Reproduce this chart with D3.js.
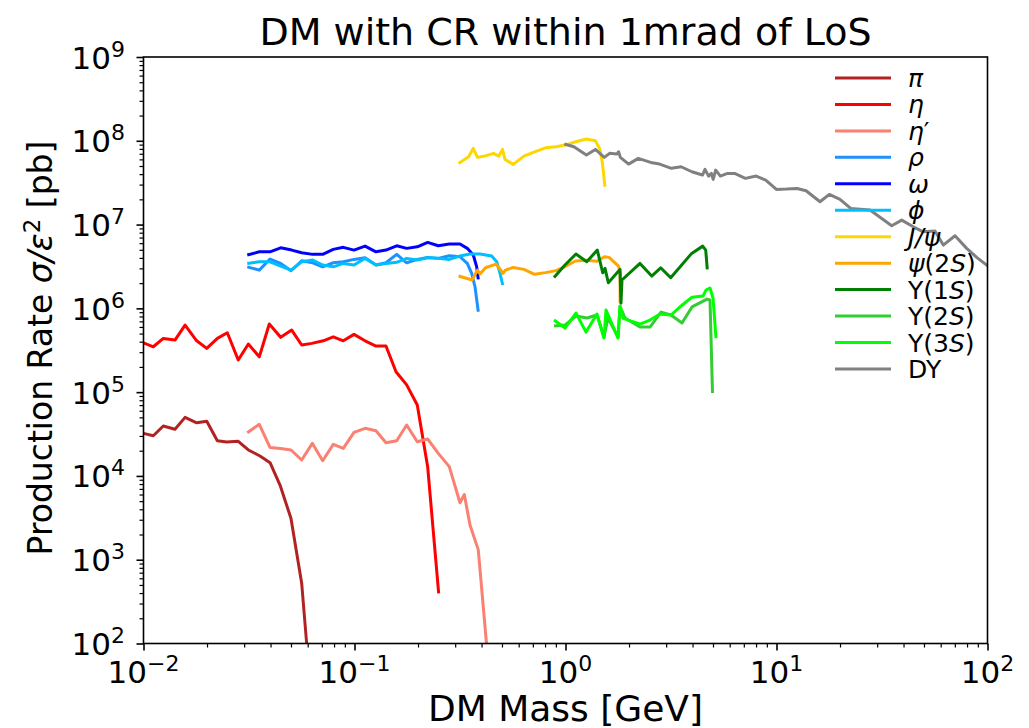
<!DOCTYPE html>
<html>
<head>
<meta charset="utf-8">
<script src="https://cdn.jsdelivr.net/npm/d3@7"></script>
<style>
body { margin: 0; background: #fff; }
text { font-family: "DejaVu Sans", sans-serif; fill: #000; }
</style>
</head>
<body>
<script>
const width = 1029, height = 728;
const x0 = 143.5, x1 = 987.5, y0 = 57, y1 = 643.5;

// [DM mass in GeV, production rate in pb]
const pi = [[0.0100,3.22e4],[0.01113,3.02e4],[0.01241,3.94e4],[0.01410,3.60e4],[0.01574,5.00e4],[0.01787,4.31e4],
  [0.01994,4.49e4],[0.02239,2.63e4],[0.02479,2.54e4],[0.02812,2.59e4],[0.03140,2.04e4],[0.03566,1.73e4],
  [0.03979,1.44e4],[0.04436,7.79e3],[0.04998,3.12e3],[0.05620,522],[0.05933,100],[0.0605,60]];
const eta = [[0.0100,3.88e5],[0.01113,3.48e5],[0.01241,4.38e5],[0.01410,4.18e5],[0.01574,6.32e5],[0.01787,4.10e5],
  [0.01994,3.33e5],[0.02239,4.38e5],[0.02496,5.11e5],[0.02812,2.42e5],[0.03140,3.75e5],[0.03538,2.64e5],
  [0.03946,6.50e5],[0.04468,4.51e5],[0.05040,5.51e5],[0.05620,3.65e5],[0.06268,3.82e5],[0.07113,4.10e5],
  [0.07933,4.58e5],[0.08849,4.10e5],[0.09945,4.89e5],[0.1122,4.10e5],[0.1264,3.55e5],[0.1410,3.55e5],
  [0.1573,1.75e5],[0.1767,1.22e5],[0.1984,7.02e4],[0.2222,1.29e4],[0.2506,397]];
const etaPrime = [[0.03103,3.28e4],[0.03538,4.13e4],[0.03976,2.19e4],[0.04468,2.13e4],[0.05002,2.04e4],[0.05620,1.55e4],
  [0.06310,2.45e4],[0.07066,1.52e4],[0.07933,2.38e4],[0.08849,2.13e4],[0.09945,3.31e4],[0.1122,3.70e4],
  [0.1264,3.46e4],[0.1410,2.49e4],[0.1585,2.63e4],[0.1767,4.05e4],[0.1984,2.56e4],[0.2222,2.76e4],
  [0.2495,1.86e4],[0.2813,1.29e4],[0.3162,4.79e3],[0.3315,6.0e3],[0.3527,2.59e3],[0.3861,1.31e3],
  [0.4222,100],[0.426,60]];
const rho = [[0.03103,3.13e6],[0.03538,2.86e6],[0.03976,3.88e6],[0.04468,3.44e6],[0.05002,2.81e6],[0.05620,3.70e6],
  [0.06339,3.50e6],[0.07066,3.13e6],[0.07933,3.50e6],[0.08849,3.60e6],[0.09945,3.84e6],[0.1122,4.02e6],
  [0.1264,3.29e6],[0.1410,3.50e6],[0.1585,4.41e6],[0.1767,3.50e6],[0.1984,3.84e6],[0.2222,4.06e6],
  [0.2495,3.95e6],[0.2813,4.24e6],[0.3162,4.13e6],[0.3424,3.44e6],[0.3592,2.62e6],[0.3725,1.81e6],[0.3861,9.11e5]];
const omega = [[0.03103,4.33e6],[0.03538,4.73e6],[0.03976,4.73e6],[0.04468,5.28e6],[0.05040,4.96e6],[0.05620,4.61e6],
  [0.06339,4.41e6],[0.07066,4.41e6],[0.07933,5.06e6],[0.08849,5.35e6],[0.09945,4.96e6],[0.1122,5.54e6],
  [0.1264,4.73e6],[0.1410,4.96e6],[0.1585,5.58e6],[0.1767,5.20e6],[0.1984,5.43e6],[0.2222,6.13e6],
  [0.2495,5.58e6],[0.2813,5.85e6],[0.3162,5.85e6],[0.3424,5.20e6],[0.3656,4.33e6],[0.3794,3.13e6],[0.3861,2.22e6]];
const phi = [[0.03103,3.44e6],[0.03538,3.60e6],[0.03976,3.60e6],[0.04468,3.20e6],[0.05002,2.86e6],[0.05620,3.60e6],
  [0.06339,3.77e6],[0.07066,3.29e6],[0.07933,3.13e6],[0.08849,3.44e6],[0.09945,3.29e6],[0.1122,3.95e6],
  [0.1264,3.29e6],[0.1410,3.44e6],[0.1585,3.54e6],[0.1767,3.95e6],[0.1984,3.77e6],[0.2222,4.02e6],
  [0.2495,3.95e6],[0.2813,3.84e6],[0.3162,4.21e6],[0.3527,4.45e6],[0.3934,4.45e6],[0.4469,4.21e6],
  [0.4720,3.60e6],[0.4894,2.62e6],[0.5040,1.90e6]];
const jpsi = [[0.3114,5.37e7],[0.3474,6.44e7],[0.3652,8.11e7],[0.3827,6.34e7],[0.4136,6.57e7],[0.4561,7.08e7],
  [0.4835,6.57e7],[0.5028,7.89e7],[0.5167,6.00e7],[0.5651,5.23e7],[0.6351,6.57e7],[0.7138,7.39e7],
  [0.8028,8.25e7],[0.9026,8.48e7],[0.9945,8.89e7],[1.118,9.73e7],[1.256,1.05e8],[1.386,1.00e8],
  [1.457,7.89e7],[1.497,5.37e7],[1.539,2.83e7]];
const psi2S = [[0.3114,2.43e6],[0.3607,2.18e6],[0.3827,2.86e6],[0.3934,2.57e6],[0.4178,3.05e6],[0.4685,3.38e6],
  [0.4866,2.99e6],[0.5055,2.62e6],[0.5194,2.86e6],[0.5651,3.08e6],[0.6351,2.92e6],[0.7138,2.55e6],
  [0.8028,2.67e6],[0.9026,2.82e6],[1.006,3.20e6],[1.115,3.67e6],[1.258,3.74e6],[1.410,3.64e6],
  [1.530,4.13e6],[1.608,4.06e6],[1.784,3.20e6],[1.813,2.62e6],[1.815,1.15e6]];
const ups1S = [[0.8820,2.34e6],[0.9945,3.29e6],[1.121,4.45e6],[1.261,3.60e6],[1.415,4.96e6],[1.501,2.66e6],
  [1.539,3.00e6],[1.596,2.02e6],[1.813,2.92e6],[1.832,1.15e6],[1.852,2.18e6],[2.255,3.44e6],
  [2.562,2.43e6],[2.826,3.05e6],[3.152,2.32e6],[3.964,4.53e6],[4.470,5.53e6],[4.619,4.96e6],[4.699,2.92e6]];
const ups2S = [[0.8820,6.15e5],[0.9945,6.32e5],[1.121,8.09e5],[1.265,7.66e5],[1.410,8.32e5],[1.522,4.55e5],
  [1.590,7.66e5],[1.774,4.55e5],[1.813,1.06e6],[1.914,7.66e5],[2.253,5.98e5],[2.515,5.98e5],
  [2.835,9.03e5],[3.162,8.32e5],[3.566,6.68e5],[3.978,1.04e6],[4.684,1.29e6],[4.840,1.26e6],[4.974,9.75e4]];
const ups3S = [[0.8820,7.25e5],[0.9945,5.82e5],[1.121,8.79e5],[1.251,5.21e5],[1.410,8.55e5],[1.522,4.42e5],
  [1.556,9.55e5],[1.774,4.42e5],[1.813,1.06e6],[1.873,7.66e5],[1.979,7.25e5],[2.253,6.50e5],
  [2.515,7.25e5],[2.805,8.55e5],[3.162,8.32e5],[3.566,1.09e6],[3.978,1.36e6],[4.484,1.40e6],
  [4.633,1.65e6],[4.840,1.75e6],[5.002,1.33e6],[5.168,4.42e5]];
const drellYan = [[0.987,9.14e7],[1.096,8.48e7],[1.256,6.75e7],[1.386,7.89e7],[1.527,6.34e7],[1.618,7.08e7],
  [1.750,6.94e7],[1.785,7.39e7],[1.820,6.34e7],[1.991,5.27e7],[2.212,6.17e7],[2.534,5.52e7],
  [2.793,5.27e7],[3.177,4.69e7],[3.531,4.90e7],[3.969,4.27e7],[4.460,3.90e7],[4.583,4.56e7],
  [4.767,3.79e7],[4.915,4.08e7],[5.012,3.46e7],[5.150,4.47e7],[5.421,3.79e7],[5.859,4.08e7],
  [6.330,4.08e7],[7.122,3.56e7],[8.005,3.79e7],[8.889,3.40e7],[9.99,2.63e7],[11.14,2.65e7],
  [12.52,2.70e7],[13.81,2.53e7],[16.08,1.87e7],[17.80,2.29e7],[20.00,2.00e7],[22.47,1.56e7],
  [27.75,1.49e7],[35.16,9.68e6],[39.22,1.13e7],[44.49,9.41e6],[49.63,8.20e6],[56.38,8.36e6],
  [61.74,5.69e6],[70.15,7.35e6],[79.69,5.20e6],[88.88,4.06e6],[100.5,3.20e6]];

const series = [pi, eta, etaPrime, rho, omega, phi, jpsi, psi2S, ups1S, ups2S, ups3S, drellYan];
// legend labels as [text, italic] pieces
const labels = [
  [["π",1]], [["η",1]], [["η",1],["′",0]], [["ρ",1]], [["ω",1]], [["ϕ",1]],
  [["J/ψ",1]], [["ψ",1],["(2",0],["S",1],[")",0]],
  [["Υ(1",0],["S",1],[")",0]], [["Υ(2",0],["S",1],[")",0]], [["Υ(3",0],["S",1],[")",0]], [["DY",0]]
];
const colors = ["#b22222","#ff0000","#fa8072","#1e90ff","#0000ff","#00bfff",
  "#ffd700","#ffa500","#008000","#32cd32","#00ff00","#808080"];

const xMajor = [1e-2, 1e-1, 1, 10, 100];
const xExp = ["−2", "−1", "0", "1", "2"];
const yMajor = [1e2, 1e3, 1e4, 1e5, 1e6, 1e7, 1e8, 1e9];
const yExp = ["2", "3", "4", "5", "6", "7", "8", "9"];

const svg = d3.select("body").append("svg")
  .attr("width", width)
  .attr("height", height)
  .attr("viewBox", [0, 0, width, height]);

const x = d3.scaleLog().domain([1e-2, 1e2]).range([x0, x1]);
const y = d3.scaleLog().domain([1e2, 1e9]).range([y1, y0]);

function minors(lo, hi) {
  const out = [];
  for (let e = lo; e < hi; e++) for (let k = 2; k <= 9; k++) out.push(k * Math.pow(10, e));
  return out;
}

svg.append("clipPath").attr("id", "clip")
  .append("rect")
  .attr("x", x0).attr("y", y0)
  .attr("width", x1 - x0).attr("height", y1 - y0);

const line = d3.line().x(d => x(d[0])).y(d => y(d[1]));

svg.append("g").attr("clip-path", "url(#clip)")
  .selectAll("path")
  .data(series)
  .enter()
  .append("path")
  .attr("d", line)
  .attr("fill", "none")
  .attr("stroke", (d, i) => colors[i])
  .attr("stroke-width", 3)
  .attr("stroke-linejoin", "round");

// ticks
function styleAxis(g, w) {
  g.select(".domain").remove();
  g.selectAll(".tick line").attr("stroke", "#000").attr("stroke-width", w);
}
svg.append("g").attr("transform", `translate(0,${y1})`)
  .call(d3.axisBottom(x).tickValues(xMajor).tickSize(7).tickFormat(""))
  .call(g => styleAxis(g, 1.6));
svg.append("g").attr("transform", `translate(0,${y1})`)
  .call(d3.axisBottom(x).tickValues(minors(-2, 2)).tickSize(4).tickFormat(""))
  .call(g => styleAxis(g, 1.2));
svg.append("g").attr("transform", `translate(${x0},0)`)
  .call(d3.axisLeft(y).tickValues(yMajor).tickSize(7).tickFormat(""))
  .call(g => styleAxis(g, 1.6));
svg.append("g").attr("transform", `translate(${x0},0)`)
  .call(d3.axisLeft(y).tickValues(minors(2, 9)).tickSize(4).tickFormat(""))
  .call(g => styleAxis(g, 1.2));

// frame
svg.append("rect")
  .attr("x", x0).attr("y", y0)
  .attr("width", x1 - x0).attr("height", y1 - y0)
  .attr("fill", "none").attr("stroke", "#000").attr("stroke-width", 1.6);

// tick labels
const xt = svg.append("g").selectAll("text").data(xMajor).enter().append("text")
  .attr("x", d => x(d)).attr("y", 683)
  .attr("text-anchor", "middle")
  .style("font-size", "31px");
xt.append("tspan").text("10");
xt.append("tspan").attr("dy", -12).style("font-size", "22px").text((d, i) => xExp[i]);

const yt = svg.append("g").selectAll("text").data(yMajor).enter().append("text")
  .attr("x", 125).attr("y", d => y(d) + 11.5)
  .attr("text-anchor", "end")
  .style("font-size", "31px");
yt.append("tspan").text("10");
yt.append("tspan").attr("dy", -12).style("font-size", "22px").text((d, i) => yExp[i]);

// title and axis labels
svg.append("text").attr("x", (x0 + x1) / 2).attr("y", 45)
  .attr("text-anchor", "middle").style("font-size", "38px")
  .text("DM with CR within 1mrad of LoS");

svg.append("text").attr("x", (x0 + x1) / 2).attr("y", 721)
  .attr("text-anchor", "middle").style("font-size", "36px")
  .text("DM Mass [GeV]");

const yl = svg.append("text")
  .attr("transform", "translate(52,348) rotate(-90)")
  .attr("text-anchor", "middle").style("font-size", "33px");
yl.append("tspan").text("Production Rate ");
yl.append("tspan").style("font-style", "italic").text("σ/ε");
yl.append("tspan").attr("dy", -12).style("font-size", "23px").text("2");
yl.append("tspan").attr("dy", 12).text(" [pb]");

// legend
const leg = svg.append("g").selectAll("g").data(labels).enter().append("g")
  .attr("transform", (d, i) => `translate(0,${78 + 26.45 * i})`);
leg.append("line")
  .attr("x1", 835).attr("x2", 891)
  .attr("stroke", (d, i) => colors[i]).attr("stroke-width", 3);
const lt = leg.append("text").attr("x", 908).attr("y", 9).style("font-size", "25px");
lt.selectAll("tspan").data(d => d).enter().append("tspan")
  .style("font-style", d => d[1] ? "italic" : "normal")
  .text(d => d[0]);
</script>
</body>
</html>
